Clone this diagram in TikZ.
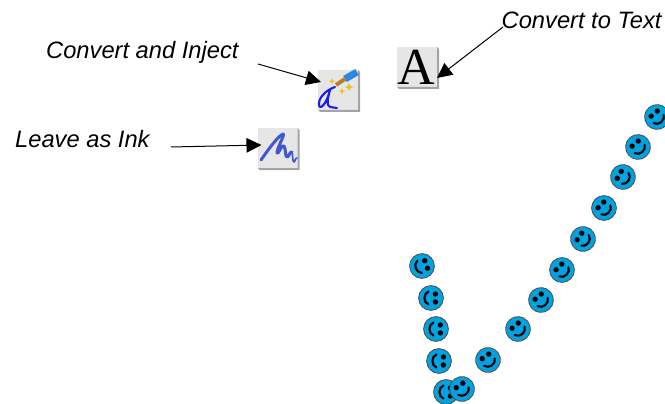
\documentclass[tikz,border=0pt]{standalone}
\usepackage{fontspec}
\setmainfont{Liberation Sans}
\newfontfamily\iconserif{Liberation Serif}
\usetikzlibrary{arrows.meta}
\definecolor{smileblue}{HTML}{00A2E0}
\definecolor{iconbg}{HTML}{E6E6E6}
\definecolor{iconshade}{HTML}{A4A4A4}
\definecolor{inkblue}{HTML}{3F57CF}
\definecolor{scriptblue}{HTML}{1A1AF5}
\definecolor{penblue}{HTML}{2F86DE}
\definecolor{nib}{HTML}{B8802A}
\definecolor{spark}{HTML}{F0C020}
\tikzset{
  x=1pt,y=-1pt,
  label text/.style={font=\fontsize{23.7}{24}\selectfont\itshape,anchor=base west,inner sep=0pt},
  icon box/.style={draw=none,fill=iconbg,minimum size=40pt,inner sep=0pt,outer sep=0pt},
  pointer/.style={draw=black,line width=1pt,-{Triangle[length=15pt,width=14.5pt]}},
  smiley/.pic={
    \fill[smileblue,draw=black!70,line width=0.8pt] (0,0) circle[radius=12.4];
    \fill[black] (-4,-4.4) circle[radius=2.7] (4,-4.4) circle[radius=2.7];
    \draw[black,line width=2.1pt,line cap=round] (-6.5,2.5) .. controls (-4.5,8) and (4.5,8) .. (6.5,2.5);
  }
}
\newcommand{\iconshadow}[1]{%
  \fill[iconshade] ([shift={(2,2)}]#1.north east) -- ([shift={(2,2)}]#1.south east) -- ([shift={(2,2)}]#1.south west) -- (#1.south west) -- (#1.south east) -- (#1.north east) -- cycle;}
\begin{document}
\begin{tikzpicture}
\useasboundingbox (0,0) rectangle (665,404);
\clip (0,0) rectangle (665,404);
% icons
\node[icon box] (iconA) at (417,67) {};
\node[icon box] (iconInject) at (338,90) {};
\node[icon box] (iconInk) at (277.5,148) {};
\iconshadow{iconA}
\iconshadow{iconInject}
\iconshadow{iconInk}
\node[inner sep=0pt,text=black,font=\iconserif\fontsize{52}{52}\selectfont,anchor=base] (letterA) at (416,85) {A};
% inject icon artwork
\draw[scriptblue,line width=2.1pt,line cap=round,line join=round]
  (335,87) .. controls (326,90) and (318,98) .. (319,105) .. controls (320,111) and (327,103) .. (330,90)
  .. controls (328,97) and (326,106) .. (330,107) -- (337,108);
\draw[penblue,line width=7pt] (357,72) -- (345,79);
\draw[nib,line width=4pt] (345,79) -- (336,85);
\fill[spark] (332,78) -- (333,80.5) -- (335.5,81) -- (333,82) -- (332,84.5) -- (331,82) -- (328.5,81) -- (331,80.5) -- cycle;
\fill[spark] (342,88) -- (343,90.5) -- (345.5,91) -- (343,92) -- (342,94.5) -- (341,92) -- (338.5,91) -- (341,90.5) -- cycle;
\fill[spark] (349,83) -- (350.5,86) -- (353.5,87) -- (350.5,88) -- (349,91) -- (347.5,88) -- (344.5,87) -- (347.5,86) -- cycle;
% ink icon artwork
\draw[inkblue,line width=3pt,line cap=round,line join=round]
  (261,160) .. controls (268,150) and (278,136) .. (283,134) .. controls (286,133) and (276,150) .. (277,153)
  .. controls (278,156) and (282,143) .. (284,146) .. controls (286,149) and (285,157) .. (287,157)
  .. controls (289,157) and (290,151) .. (292,152);
\draw[inkblue,line width=1.7pt,line cap=round,line join=round]
  (292,152) .. controls (293,154) and (292,161) .. (294,162) .. controls (295,162) and (295,158) .. (297,158);
% labels
\node[label text] (txtText) at (501.5,29) {Convert to Text};
\node[label text] (txtInject) at (46,59) {Convert and Inject};
\node[label text] (txtInk) at (15,148) {Leave as Ink};
% connectors
\coordinate (startText) at (503,27);
\coordinate (startInject) at (258,64);
\coordinate (startInk) at (171,147);
\draw[pointer] (startText) -- ([yshift=-11pt]iconA.east);
\draw[pointer] (startInject) -- ([shift={(3,-8)}]iconInject.west);
\draw[pointer] (startInk) -- ([shift={(4,-3)}]iconInk.west);
% smileys
\foreach \px/\py/\ang in {
  422/266/-70, 431/298/-90, 436/329/-90, 439/361/-90, 446/392/-90,
  462/389/35, 488/360/35, 518/329/40, 541/300/40, 562/270/45,
  583/239/55, 604/208/45, 623/177/60, 638/147/40, 657/117/40}
  \pic[rotate=\ang] at (\px,\py) {smiley};
\end{tikzpicture}
\end{document}
